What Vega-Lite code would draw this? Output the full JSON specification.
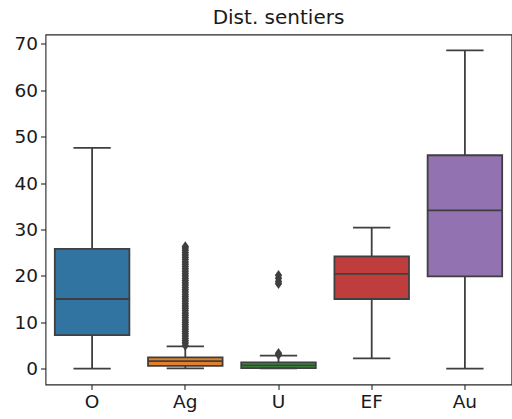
{
  "$schema": "https://vega.github.io/schema/vega-lite/v6.json",
  "width": 466,
  "height": 350,
  "autosize": {"type": "none"},
  "padding": {"left": 45.5, "top": 34.5, "right": 0.5, "bottom": 34.5},
  "background": "white",
  "title": {"text": "Dist. sentiers", "fontSize": 20, "font": "DejaVu Sans", "fontWeight": "normal", "color": "#1a1a1a", "offset": 7},
  "config": {
    "view": {"stroke": "#262626", "strokeWidth": 1.1},
    "axis": {"labelFont": "DejaVu Sans", "labelFontSize": 18.5, "labelColor": "#1a1a1a", "tickColor": "#262626", "tickSize": 5, "tickWidth": 1.1, "labelPadding": 3, "domain": false, "grid": false}
  },
  "datasets": {
    "summary": [
      {"cat": "O", "lower": 0, "q1": 7.2, "median": 15.0, "q3": 25.8, "upper": 47.6},
      {"cat": "Ag", "lower": 0.05, "q1": 0.6, "median": 1.6, "q3": 2.4, "upper": 4.8},
      {"cat": "U", "lower": 0.05, "q1": 0.1, "median": 0.7, "q3": 1.35, "upper": 2.8},
      {"cat": "EF", "lower": 2.2, "q1": 15.0, "median": 20.4, "q3": 24.2, "upper": 30.4},
      {"cat": "Au", "lower": 0, "q1": 19.9, "median": 34.1, "q3": 46.0, "upper": 68.6}
    ],
    "outliers": [
      {"cat": "Ag", "value": 5.0}, {"cat": "Ag", "value": 5.5}, {"cat": "Ag", "value": 6.0}, {"cat": "Ag", "value": 6.5},
      {"cat": "Ag", "value": 7.0}, {"cat": "Ag", "value": 7.5}, {"cat": "Ag", "value": 8.0}, {"cat": "Ag", "value": 8.5},
      {"cat": "Ag", "value": 9.0}, {"cat": "Ag", "value": 9.5}, {"cat": "Ag", "value": 10.0}, {"cat": "Ag", "value": 10.5},
      {"cat": "Ag", "value": 11.0}, {"cat": "Ag", "value": 11.5}, {"cat": "Ag", "value": 12.0}, {"cat": "Ag", "value": 12.5},
      {"cat": "Ag", "value": 13.0}, {"cat": "Ag", "value": 13.5}, {"cat": "Ag", "value": 14.0}, {"cat": "Ag", "value": 14.5},
      {"cat": "Ag", "value": 15.0}, {"cat": "Ag", "value": 15.5}, {"cat": "Ag", "value": 16.0}, {"cat": "Ag", "value": 16.5},
      {"cat": "Ag", "value": 17.0}, {"cat": "Ag", "value": 17.5}, {"cat": "Ag", "value": 18.0}, {"cat": "Ag", "value": 18.5},
      {"cat": "Ag", "value": 19.0}, {"cat": "Ag", "value": 19.5}, {"cat": "Ag", "value": 20.0}, {"cat": "Ag", "value": 20.5},
      {"cat": "Ag", "value": 21.0}, {"cat": "Ag", "value": 21.5}, {"cat": "Ag", "value": 22.0}, {"cat": "Ag", "value": 22.5},
      {"cat": "Ag", "value": 23.0}, {"cat": "Ag", "value": 23.5}, {"cat": "Ag", "value": 24.0}, {"cat": "Ag", "value": 24.5},
      {"cat": "Ag", "value": 25.0}, {"cat": "Ag", "value": 25.5}, {"cat": "Ag", "value": 26.0}, {"cat": "Ag", "value": 26.3},
      {"cat": "U", "value": 3.0}, {"cat": "U", "value": 3.3},
      {"cat": "U", "value": 18.3}, {"cat": "U", "value": 18.8}, {"cat": "U", "value": 19.5}, {"cat": "U", "value": 20.1}
    ]
  },
  "encoding": {
    "x": {"field": "cat", "type": "nominal", "sort": ["O", "Ag", "U", "EF", "Au"], "scale": {"paddingInner": 0, "paddingOuter": 0}, "axis": {"labelAngle": 0, "title": null}}
  },
  "layer": [
    {
      "data": {"name": "summary"},
      "mark": {"type": "rule", "color": "#3f3f3f", "strokeWidth": 1.8},
      "encoding": {
        "y": {"field": "lower", "type": "quantitative", "scale": {"domain": [-3.43, 72.03], "nice": false, "zero": false}, "axis": {"values": [0, 10, 20, 30, 40, 50, 60, 70], "title": null}},
        "y2": {"field": "upper"}
      }
    },
    {
      "data": {"name": "summary"},
      "mark": {"type": "bar", "width": {"band": 0.8}, "stroke": "#3f3f3f", "strokeWidth": 1.8, "opacity": 1},
      "encoding": {
        "y": {"field": "q1", "type": "quantitative"},
        "y2": {"field": "q3"},
        "color": {"field": "cat", "type": "nominal", "scale": {"domain": ["O", "Ag", "U", "EF", "Au"], "range": ["#3274a1", "#e1812c", "#3a923a", "#c03d3e", "#9372b2"]}, "legend": null}
      }
    },
    {
      "data": {"name": "summary"},
      "mark": {"type": "tick", "size": 74.6, "thickness": 1.8, "color": "#3f3f3f", "opacity": 1},
      "encoding": {"y": {"field": "median", "type": "quantitative"}}
    },
    {
      "data": {"name": "summary"},
      "mark": {"type": "tick", "size": 37.3, "thickness": 1.8, "color": "#3f3f3f", "opacity": 1},
      "encoding": {"y": {"field": "lower", "type": "quantitative"}}
    },
    {
      "data": {"name": "summary"},
      "mark": {"type": "tick", "size": 37.3, "thickness": 1.8, "color": "#3f3f3f", "opacity": 1},
      "encoding": {"y": {"field": "upper", "type": "quantitative"}}
    },
    {
      "data": {"name": "outliers"},
      "mark": {"type": "point", "shape": "M0,-1L0.7,0L0,1L-0.7,0Z", "filled": true, "color": "#3f3f3f", "size": 110, "opacity": 1},
      "encoding": {"y": {"field": "value", "type": "quantitative"}}
    }
  ]
}
